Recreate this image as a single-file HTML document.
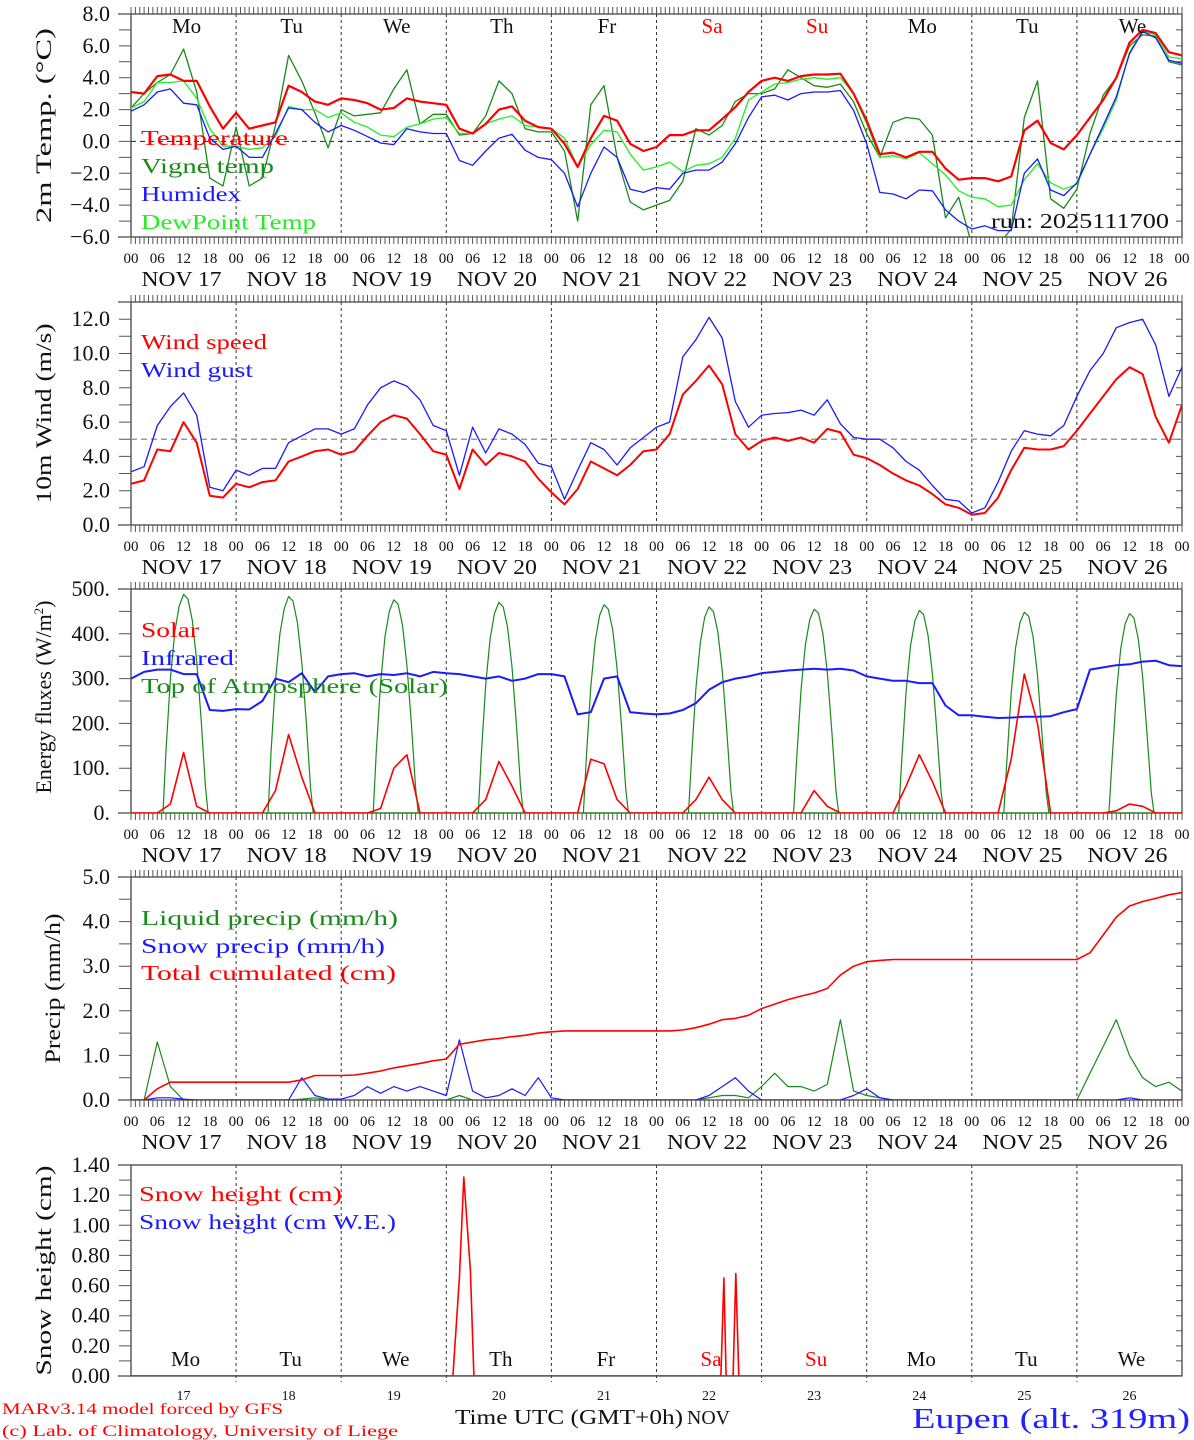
<!DOCTYPE html>
<html><head><meta charset="utf-8">
<style>
html,body{margin:0;padding:0;background:#fff;}
svg{display:block;font-family:"Liberation Mono","DejaVu Sans Mono",monospace;}
</style></head>
<body>
<svg id="chart" width="1194" height="1440" viewBox="0 0 1194 1440" xmlns="http://www.w3.org/2000/svg"></svg>
<script>
// ---------- data (3-hourly, hours 0..240) ----------
const hours = [];
for (let h = 0; h <= 240; h += 3) hours.push(h);
const dayLabels = ["Mo","Tu","We","Th","Fr","Sa","Su","Mo","Tu","We"];
const dayDates = ["17","18","19","20","21","22","23","24","25","26"];
const hourTicks = ["00","06","12","18"];

const temperature = [3.1,3.0,4.1,4.2,3.8,3.8,2.2,0.8, 1.8,0.8,1.0,1.2,3.5,3.1,2.5,2.3, 2.7,2.6,2.4,2.0,2.1,2.7,2.5,2.4, 2.3,0.8,0.5,1.1,2.0,2.2,1.3,0.9, 0.8,-0.15,-1.6,0.2,1.6,1.3,-0.15,-0.6, -0.35,0.4,0.4,0.7,0.7,1.4,2.15,3.1, 3.8,4.0,3.8,4.1,4.2,4.2,4.25,3.0, 1.3,-0.8,-0.7,-1.0,-0.65,-0.65,-1.7,-2.4, -2.3,-2.3,-2.5,-2.2,0.7,1.3,-0.1,-0.5, 0.4,1.5,2.6,4.0,6.2,7.0,6.8,5.6,5.4];
const vigne = [2.1,3.0,3.7,4.2,5.8,3.1,-2.3,-2.8, 0.9,-2.8,-2.3,1.0,5.4,3.8,1.8,-0.4, 2.0,1.6,1.7,1.8,3.3,4.5,1.1,1.7, 1.7,0.4,0.5,1.6,3.8,3.0,0.8,0.6, 0.6,-0.6,-5.0,2.3,3.5,-1.0,-3.8,-4.3, -4.0,-3.7,-2.5,0.8,0.4,1.0,2.5,3.0, 3.0,3.3,4.5,4.0,3.5,3.4,3.6,2.5, 0.5,-1.0,1.2,1.5,1.4,0.4,-4.8,-3.5, -6.5,-6.5,-6.5,-5.5,1.5,3.8,-3.6,-4.2, -3.0,0.5,2.9,4.0,6.0,6.7,6.6,5.0,4.8];
const humidex = [1.9,2.3,3.1,3.3,2.4,2.3,0.2,-0.5, -0.3,-1.0,-1.0,0.5,2.1,2.0,1.2,0.6, 1.0,0.7,0.3,-0.1,-0.2,0.8,0.6,0.5, 0.5,-1.2,-1.5,-0.6,0.2,0.45,-0.55,-1.0, -1.15,-2.0,-4.1,-2.0,-0.35,-1.0,-3.0,-3.2, -2.9,-3.0,-2.0,-1.8,-1.8,-1.3,-0.15,1.5, 2.8,2.9,2.6,3.0,3.1,3.1,3.2,1.95, -0.15,-3.2,-3.3,-3.6,-3.05,-3.1,-4.3,-5.0, -5.5,-5.3,-5.6,-5.6,-2.0,-1.1,-3.05,-3.4, -2.6,-0.8,1.0,2.8,5.5,6.9,6.5,5.1,4.9];
const dewpoint = [2.1,2.5,3.7,3.7,3.8,2.7,0.8,-0.3, -0.3,-0.5,-0.4,0.3,2.2,2.0,2.0,1.5, 1.8,1.2,0.9,0.4,0.3,0.9,1.1,1.4, 1.5,0.5,0.5,1.1,1.4,1.6,1.0,0.9, 0.8,0.2,-1.6,-0.2,0.7,0.6,-0.8,-1.8, -1.6,-1.3,-1.9,-1.5,-1.4,-1.0,0.2,2.6, 3.1,3.6,3.7,3.9,4.0,3.9,4.0,3.0, 1.1,-1.0,-0.9,-1.1,-0.7,-1.4,-2.1,-3.1, -3.5,-3.6,-4.1,-4.0,-2.4,-1.4,-2.6,-3.0, -2.7,-0.8,0.8,2.6,5.6,6.9,6.7,5.3,5.2];

const windSpeed = [2.4,2.6,4.4,4.3,6.0,4.8,1.7,1.6, 2.4,2.2,2.5,2.6,3.7,4.0,4.3,4.4, 4.1,4.3,5.2,6.0,6.4,6.2,5.3,4.3, 4.1,2.1,4.4,3.5,4.2,4.0,3.7,2.7, 1.9,1.2,2.1,3.7,3.3,2.9,3.5,4.3, 4.4,5.3,7.6,8.4,9.3,8.2,5.3,4.4, 4.9,5.1,4.9,5.1,4.8,5.6,5.4,4.1, 3.9,3.5,3.0,2.6,2.3,1.8,1.2,1.0, 0.6,0.7,1.6,3.2,4.5,4.4,4.4,4.6, 5.5,6.5,7.5,8.5,9.2,8.8,6.3,4.8,7.0];
const windGust = [3.1,3.4,5.8,6.9,7.7,6.4,2.2,2.0, 3.2,2.9,3.3,3.3,4.8,5.2,5.6,5.6, 5.3,5.6,7.0,8.0,8.4,8.1,7.3,5.8, 5.5,2.9,5.7,4.2,5.6,5.3,4.7,3.6, 3.4,1.5,3.2,4.8,4.4,3.5,4.5,5.1, 5.7,6.0,9.8,10.8,12.1,10.9,7.2,5.7, 6.4,6.5,6.55,6.7,6.4,7.3,5.9,5.1, 5.0,5.0,4.5,3.7,3.2,2.3,1.5,1.4, 0.7,1.0,2.5,4.3,5.5,5.3,5.2,5.8, 7.5,9.0,10.0,11.5,11.8,12.0,10.5,7.5,9.2];

const solar = [0,0,0,20,135,15,0,0, 0,0,0,50,175,80,0,0, 0,0,0,10,100,130,0,0, 0,0,0,30,115,60,0,0, 0,0,0,120,110,30,0,0, 0,0,0,30,80,30,0,0, 0,0,0,0,50,15,0,0, 0,0,0,60,130,70,0,0, 0,0,0,120,310,200,0,0, 0,0,0,5,20,15,0,0,0];
const infrared = [300,315,320,320,310,310,230,228, 232,231,250,300,292,312,270,305, 310,312,305,310,308,312,305,315, 312,310,305,300,305,295,300,310, 310,305,220,225,300,305,225,222, 220,222,230,245,275,292,300,305, 312,315,318,320,322,320,322,318, 305,300,295,295,290,290,240,218, 218,215,212,213,215,215,216,225, 232,320,325,330,332,338,340,330,328];

// Top of atmosphere: hourly from 07 to 18 each day
const toaDayHours = [7.3,8,9,10,11,12,13,14,15,16,17,17.6];
const toaByDay = [
  [0,140,300,405,462,488,478,430,340,210,60,0],
  [0,138,296,400,457,483,473,425,336,206,58,0],
  [0,134,290,394,451,476,466,419,330,202,56,0],
  [0,130,286,389,446,470,460,414,326,198,54,0],
  [0,126,282,384,441,465,455,409,322,194,52,0],
  [0,122,278,380,437,460,450,405,318,190,50,0],
  [0,118,274,376,432,455,446,400,314,186,48,0],
  [0,116,271,373,429,452,443,397,311,183,47,0],
  [0,114,268,369,425,448,439,393,308,180,46,0],
  [0,112,265,366,422,445,436,390,305,178,45,0]
];

const liquidPrecip = [0,0,1.3,0.3,0,0,0,0, 0,0,0,0,0,0.02,0.05,0, 0,0,0,0,0,0,0,0, 0,0.1,0,0,0,0,0,0, 0,0,0,0,0,0,0,0, 0,0,0,0,0.05,0.1,0.1,0.05, 0.3,0.6,0.3,0.3,0.2,0.35,1.8,0.2, 0.1,0.05,0,0,0,0,0,0, 0,0,0,0,0,0,0,0, 0,0.6,1.2,1.8,1.0,0.5,0.3,0.4,0.2];
const snowPrecip = [0,0,0.05,0.05,0.02,0,0,0, 0,0,0,0,0,0.5,0.1,0.02, 0.02,0.1,0.3,0.15,0.3,0.2,0.3,0.2, 0.1,1.35,0.2,0.05,0.1,0.25,0.1,0.5, 0.05,0,0,0,0,0,0,0, 0,0,0,0,0.1,0.3,0.5,0.2, 0,0,0,0,0,0,0,0.1, 0.25,0.05,0,0,0,0,0,0, 0,0,0,0,0,0,0,0, 0,0,0,0,0.05,0,0,0,0];
const totalCumul = [0,0,0.25,0.4,0.4,0.4,0.4,0.4, 0.4,0.4,0.4,0.4,0.4,0.45,0.55,0.55, 0.55,0.56,0.6,0.65,0.72,0.77,0.82,0.88, 0.92,1.25,1.3,1.35,1.38,1.42,1.45,1.5, 1.53,1.55,1.55,1.55,1.55,1.55,1.55,1.55, 1.55,1.55,1.57,1.62,1.7,1.8,1.83,1.9, 2.05,2.15,2.25,2.33,2.4,2.5,2.8,3.0, 3.1,3.13,3.15,3.15,3.15,3.15,3.15,3.15, 3.15,3.15,3.15,3.15,3.15,3.15,3.15,3.15, 3.15,3.3,3.7,4.1,4.35,4.45,4.52,4.6,4.65];

const snowHours = [0,73.5,75,76,77.5,78.3,134.7,135.4,135.9,137.5,138.1,138.8,240];
const snowHeight = [0,0,0.65,1.32,0.7,0,0,0.65,0,0,0.68,0,0];
const snowWE = [0,0,0,0,0,0,0,0,0,0,0,0,0];

const tempTicks = ["8.0","6.0","4.0","2.0","0.0","\u22122.0","\u22124.0","\u22126.0"];
const windTicks = ["12.0","10.0","8.0","6.0","4.0","2.0","0.0"];
const fluxTicks = ["500.","400.","300.","200.","100.","0."];
const precipTicks = ["5.0","4.0","3.0","2.0","1.0","0.0"];
const snowTicks = ["1.40","1.20","1.00","0.80","0.60","0.40","0.20","0.00"];

// ---------- drawing ----------
const NS = "http://www.w3.org/2000/svg";
const svg = document.getElementById("chart");
const X0 = 131, X1 = 1182;
const SERIF = "Liberation Serif, serif";
function xs(h){ return X0 + (X1 - X0) * h / 240; }
function mk(tag, attrs, parent){
  const e = document.createElementNS(NS, tag);
  for (const k in attrs) e.setAttribute(k, attrs[k]);
  (parent || svg).appendChild(e);
  return e;
}
function txt(x, y, s, size, fill, anchor, parent, len){
  const t = mk("text", {x:x, y:y, "font-size":size, fill:fill||"#000", "text-anchor":anchor||"start"}, parent);
  if (len) { t.setAttribute("textLength", len); t.setAttribute("lengthAdjust", "spacingAndGlyphs"); }
  t.textContent = s;
  return t;
}

const panels = [
  {name:"temperature-panel", top:14, bottom:237, min:-6, max:8, ticks:tempTicks, tickStep:2, minor:1},
  {name:"wind-panel", top:302, bottom:525, min:0, max:13, ticks:windTicks, tickStep:2, minor:1, tickTop:12},
  {name:"energy-panel", top:589, bottom:813, min:0, max:500, ticks:fluxTicks, tickStep:100, minor:50},
  {name:"precip-panel", top:877, bottom:1100, min:0, max:5, ticks:precipTicks, tickStep:1, minor:0.5},
  {name:"snow-panel", top:1165, bottom:1376, min:0, max:1.4, ticks:snowTicks, tickStep:0.2, minor:0.1, last:true}
];

panels.forEach((p, i) => {
  const g = mk("g", {});
  
  
  p.g = g;
  p.y = v => p.bottom - (v - p.min) / (p.max - p.min) * (p.bottom - p.top);
  const cp = mk("clipPath", {id:"clip" + i}, g);
  mk("rect", {x:X0, y:p.top, width:X1 - X0, height:p.bottom - p.top}, cp);
  for (let d = 1; d < 10; d++) {
    const l = mk("line", {x1:xs(d*24), x2:xs(d*24), y1:p.top, y2:p.bottom + (p.last ? 6 : 0), stroke:"#333", "stroke-width":1, "stroke-dasharray":"3,3"}, g);
    
    
  }
  const fr = mk("rect", {x:X0, y:p.top, width:X1 - X0, height:p.bottom - p.top, fill:"none", stroke:"#444", "stroke-width":1.3}, g);
  
  
  mk("line", {x1:118, x2:X0, y1:p.top, y2:p.top, stroke:"#444", "stroke-width":1.3}, g);
  mk("line", {x1:118, x2:X0, y1:p.bottom, y2:p.bottom, stroke:"#444", "stroke-width":1.3}, g);
  let d = "";
  for (let v = p.min; v <= p.max + 1e-9; v += p.minor) {
    const yy = p.y(v).toFixed(1);
    d += `M119,${yy}H${X0}M${X1-6},${yy}H${X1}`;
  }
  if (!p.last) {
    for (let h = 0; h <= 240; h++) {
      const xx = xs(h).toFixed(1);
      d += `M${xx},${p.top-7}V${p.top}M${xx},${p.bottom}V${p.bottom+7}`;
    }
  }
  const tk = mk("path", {d:d, stroke:"#555", "stroke-width":1, fill:"none"}, g);
  
  
  const ty = p.tickTop !== undefined ? p.tickTop : p.max;
  p.ticks.forEach((s, k) => {
    const v = ty - k * p.tickStep;
    const t = txt(110, p.y(v) + 7, s, 22, "#111", "end", g);
    t.setAttribute("font-family", SERIF);
    
    
  });
  if (!p.last) {
    for (let dd = 0; dd < 10; dd++) {
      hourTicks.forEach((s, k) => {
        const t = txt(xs(dd*24 + k*6), p.bottom + 26, s, 15, "#111", "middle", g);
        t.setAttribute("font-family", SERIF);
        
        
      });
      const t2 = txt(xs(dd*24 + 12) - 2, p.bottom + 49, "NOV  " + dayDates[dd], 21, "#111", "middle", g, 80);
      t2.setAttribute("font-family", SERIF);
      
      
    }
    const t3 = txt(xs(240), p.bottom + 26, "00", 15, "#111", "middle", g);
    t3.setAttribute("font-family", SERIF);
    
    
  }
});

function line(p, xsArr, vals, color, width, name){
  let d = "";
  vals.forEach((v, k) => { d += (k ? "L" : "M") + xs(xsArr[k]).toFixed(1) + "," + p.y(v).toFixed(1); });
  const e = mk("path", {d:d, fill:"none", stroke:color, "stroke-width":width, "stroke-linejoin":"round", "clip-path":"url(#clip" + panels.indexOf(p) + ")"}, p.g);
  
  
}
function hline(p, v, color, w, dash, name){
  const e = mk("line", {x1:X0, x2:X1, y1:p.y(v), y2:p.y(v), stroke:color, "stroke-width":w, "stroke-dasharray":dash}, p.g);
  
  
}
function legend(p, x, y, s, color, len){
  const t = txt(x, y, s, 21, color, "start", p.g, len);
  t.setAttribute("font-family", SERIF);
  
  
}
function ytitle(p, s, cx, len){
  const cy = (p.top + p.bottom) / 2;
  const t = txt(0, 0, s, 22, "#111", "middle", p.g, len);
  t.setAttribute("font-family", SERIF);
  t.setAttribute("transform", `translate(${cx},${cy}) rotate(-90)`);
  
  
  return t;
}

// Panel 1
const P1 = panels[0];
hline(P1, 0, "#222", 1, "5,4", "zero-line");
line(P1, hours, vigne, "#1a8a1a", 1.3, "vigne-temp-line");
line(P1, hours, dewpoint, "#22ee22", 1.3, "dewpoint-line");
line(P1, hours, humidex, "#1a1aff", 1.3, "humidex-line");
line(P1, hours, temperature, "#ff0000", 2.2, "temperature-line");
for (let dd = 0; dd < 10; dd++) {
  const t = txt(xs(dd*24 + 12) + 3, 33, dayLabels[dd], 21, (dd === 5 || dd === 6) ? "#ff0000" : "#111", "middle", P1.g);
  t.setAttribute("font-family", SERIF);
  
  
}
legend(P1, 141, 145, "Temperature", "#ff0000", 147);
legend(P1, 141, 173, "Vigne temp", "#1a8a1a", 133);
legend(P1, 141, 201, "Humidex", "#1a1aff", 100);
legend(P1, 141, 229, "DewPoint Temp", "#22ee22", 175);
const run = txt(991, 228, "run: 2025111700", 21, "#111", "start", P1.g, 178);
run.setAttribute("font-family", SERIF);


ytitle(P1, "2m Temp. (\u00B0C)", 51, 195);

// Panel 2
const P2 = panels[1];
hline(P2, 5, "#999", 1.5, "6,4", "reference-line");
line(P2, hours, windGust, "#1a1aff", 1.3, "wind-gust-line");
line(P2, hours, windSpeed, "#ff0000", 2, "wind-speed-line");
legend(P2, 141, 349, "Wind speed", "#ff0000", 126);
legend(P2, 141, 377, "Wind gust", "#1a1aff", 112);
ytitle(P2, "10m Wind (m/s)", 51, 180);

// Panel 3
const P3 = panels[2];
toaByDay.forEach((vals, dd) => {
  const hs = toaDayHours.map(h => h + dd * 24);
  line(P3, hs, vals, "#1a8a1a", 1.2, "toa-solar-line");
});
hline(P3, 0, "#1a8a1a", 1.2, "none", "toa-zero-line");
line(P3, hours, infrared, "#1a1aff", 2, "infrared-line");
line(P3, hours, solar, "#ff0000", 1.6, "solar-line");
legend(P3, 141, 637, "Solar", "#ff0000", 58);
legend(P3, 141, 665, "Infrared", "#1a1aff", 93);
legend(P3, 141, 693, "Top of Atmosphere (Solar)", "#1a8a1a", 307);
{
  const cy = (P3.top + P3.bottom) / 2;
  const t = mk("text", {"font-size":22, fill:"#111", "text-anchor":"middle", "font-family":SERIF, transform:`translate(51,${cy - 4}) rotate(-90)`}, P3.g);
  
  
  t.appendChild(document.createTextNode("Energy fluxes (W/m"));
  const s = mk("tspan", {dy:-8, "font-size":13}, t); s.textContent = "2";
  const s2 = mk("tspan", {dy:8}, t); s2.textContent = ")";
}

// Panel 4
const P4 = panels[3];
line(P4, hours, liquidPrecip, "#1a8a1a", 1.2, "liquid-precip-line");
line(P4, hours, snowPrecip, "#1a1aff", 1.2, "snow-precip-line");
line(P4, hours, totalCumul, "#ff0000", 1.6, "total-cumulated-line");
legend(P4, 141, 925, "Liquid precip (mm/h)", "#1a8a1a", 257);
legend(P4, 141, 953, "Snow precip (mm/h)", "#1a1aff", 244);
legend(P4, 141, 980, "Total cumulated (cm)", "#ff0000", 255);
ytitle(P4, "Precip (mm/h)", 60, 150);

// Panel 5
const P5 = panels[4];
line(P5, snowHours, snowWE, "#1a1aff", 1.2, "snow-we-line");
line(P5, snowHours, snowHeight, "#ff0000", 1.6, "snow-height-line");
legend(P5, 139, 1201, "Snow height (cm)", "#ff0000", 203);
legend(P5, 139, 1229, "Snow height (cm W.E.)", "#1a1aff", 257);
ytitle(P5, "Snow height (cm)", 51, 210);
for (let dd = 0; dd < 10; dd++) {
  const t = txt(xs(dd*24 + 12) + 2, 1366, dayLabels[dd], 21, (dd === 5 || dd === 6) ? "#ff0000" : "#111", "middle", P5.g);
  t.setAttribute("font-family", SERIF);
  
  
  const t2 = txt(xs(dd*24 + 12), 1400, dayDates[dd], 14, "#111", "middle", P5.g);
  t2.setAttribute("font-family", SERIF);
  
  
}
const xt = txt(455, 1424, "Time UTC (GMT+0h)", 21, "#111", "start", svg, 228);
xt.setAttribute("font-family", SERIF);


const xn = txt(687, 1424, "NOV", 20, "#111", "start", svg, 43);
xn.setAttribute("font-family", SERIF);


const c1 = txt(2, 1414, "MARv3.14 model forced by GFS", 16, "#ff0000", "start", svg, 281);
c1.setAttribute("font-family", SERIF);


const c2 = txt(2, 1436, "(c) Lab. of Climatology, University of Liege", 16, "#ff0000", "start", svg, 396);
c2.setAttribute("font-family", SERIF);


const loc = mk("text", {x:1190, y:1428, "font-size":28, fill:"#2222ff", "text-anchor":"end", textLength:278, lengthAdjust:"spacingAndGlyphs", "font-family":SERIF}, svg);


loc.textContent = "Eupen (alt. 319m)";
</script>
</body></html>
